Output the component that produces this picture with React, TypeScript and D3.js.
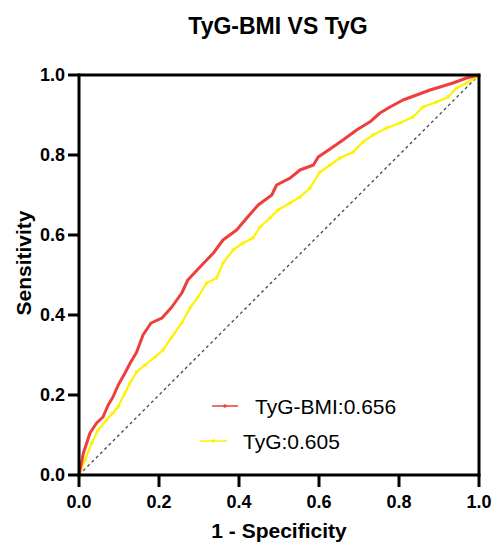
import React from 'react';
import * as d3 from 'd3';

// ROC points (1 - specificity, sensitivity)
const bmiFpr = [0, 0.011, 0.0275, 0.044, 0.06, 0.073, 0.085, 0.098, 0.115, 0.128, 0.144, 0.16, 0.18, 0.207, 0.232, 0.257, 0.272, 0.3025, 0.336, 0.36, 0.394, 0.419, 0.448, 0.482, 0.494, 0.5275, 0.5525, 0.586, 0.598, 0.6275, 0.66, 0.694, 0.7275, 0.7525, 0.7775, 0.81, 0.844, 0.8775, 0.9025, 0.935, 0.969, 1];
const bmiTpr = [0, 0.055, 0.105, 0.13, 0.145, 0.175, 0.195, 0.225, 0.255, 0.28, 0.307, 0.35, 0.38, 0.392, 0.42, 0.455, 0.4875, 0.52, 0.555, 0.5875, 0.6125, 0.642, 0.675, 0.7, 0.725, 0.742, 0.7625, 0.775, 0.795, 0.815, 0.8375, 0.8625, 0.883, 0.905, 0.92, 0.9375, 0.95, 0.9625, 0.97, 0.98, 0.9925, 1];

const tygFpr = [0, 0.015, 0.032, 0.0475, 0.069, 0.085, 0.0975, 0.115, 0.1275, 0.144, 0.165, 0.19, 0.21, 0.232, 0.257, 0.2775, 0.2975, 0.319, 0.344, 0.36, 0.385, 0.41, 0.435, 0.4525, 0.4775, 0.4975, 0.5275, 0.5525, 0.5775, 0.6025, 0.6275, 0.6525, 0.685, 0.71, 0.735, 0.769, 0.8025, 0.835, 0.86, 0.894, 0.9225, 0.944, 0.969, 0.994, 1];
const tygTpr = [0, 0.0375, 0.08, 0.1125, 0.1375, 0.155, 0.17, 0.205, 0.23, 0.2575, 0.275, 0.295, 0.3125, 0.345, 0.38, 0.4175, 0.445, 0.48, 0.4925, 0.53, 0.5625, 0.58, 0.5925, 0.62, 0.6425, 0.6625, 0.68, 0.695, 0.7175, 0.7575, 0.775, 0.7925, 0.8075, 0.8325, 0.85, 0.8675, 0.88, 0.895, 0.92, 0.9325, 0.945, 0.9675, 0.98, 0.995, 1];

const tickValues = [0, 0.2, 0.4, 0.6, 0.8, 1.0];
const legendLabels = ['TyG-BMI:0.656', 'TyG:0.605'];

const font = '"Liberation Sans", Arial, Helvetica, sans-serif';
const red = '#EE3E3E';
const yellow = '#FFF200';

export default function App() {
  const x = d3.scaleLinear().domain([0, 1]).range([79, 479]);
  const y = d3.scaleLinear().domain([0, 1]).range([475, 75]);

  const line = d3.line<[number, number]>()
    .x(d => x(d[0]))
    .y(d => y(d[1]));

  const bmiPts = bmiFpr.map((v, i) => [v, bmiTpr[i]] as [number, number]);
  const tygPts = tygFpr.map((v, i) => [v, tygTpr[i]] as [number, number]);

  return (
    <svg width={494} height={544} style={{ position: 'absolute', left: 0, top: 0 }} fontFamily={font}>
      <rect width={494} height={544} fill="#fff" />
      <text x={278} y={34} textAnchor="middle" fontSize={23} fontWeight="bold">TyG-BMI VS TyG</text>

      {/* reference diagonal */}
      <line x1={x(0)} y1={y(0)} x2={x(1)} y2={y(1)} stroke="#444" strokeWidth={1.3} strokeDasharray="3,3" />

      <path d={line(tygPts) || ''} fill="none" stroke={yellow} strokeWidth={2.2} />
      {tygPts.map((d, i) => (
        <rect key={i} x={x(d[0]) - 1.5} y={y(d[1]) - 1.5} width={3} height={3} fill={yellow} />
      ))}
      <path d={line(bmiPts) || ''} fill="none" stroke={red} strokeWidth={3} strokeLinejoin="round" />

      {/* frame */}
      <line x1={x(0)} y1={y(1)} x2={x(1) + 1.5} y2={y(1)} stroke="#000" strokeWidth={3} />
      <line x1={x(1)} y1={y(1)} x2={x(1)} y2={y(0)} stroke="#000" strokeWidth={3} />
      <line x1={x(0)} y1={y(1) - 1.5} x2={x(0)} y2={y(0) + 1.5} stroke="#000" strokeWidth={3} />
      <line x1={x(0) - 1.5} y1={y(0)} x2={x(1) + 1.5} y2={y(0)} stroke="#000" strokeWidth={3} />

      {tickValues.map(t => (
        <g key={'y' + t}>
          <line x1={x(0) - 11} x2={x(0)} y1={y(t)} y2={y(t)} stroke="#000" strokeWidth={3} />
          <text x={65} y={y(t)} dy="0.36em" textAnchor="end" fontSize={18} fontWeight="bold">{t.toFixed(1)}</text>
        </g>
      ))}
      {tickValues.map(t => (
        <g key={'x' + t}>
          <line x1={x(t)} x2={x(t)} y1={y(0)} y2={y(0) + 12} stroke="#000" strokeWidth={3} />
          <text x={x(t)} y={508} textAnchor="middle" fontSize={18} fontWeight="bold">{t.toFixed(1)}</text>
        </g>
      ))}

      <text x={279} y={538} textAnchor="middle" fontSize={21} fontWeight="bold">1 - Specificity</text>
      <text transform="translate(31,263) rotate(-90)" textAnchor="middle" fontSize={21} fontWeight="bold">Sensitivity</text>

      {/* legend */}
      <line x1={212} x2={238} y1={406} y2={406} stroke={red} strokeWidth={1.5} />
      <circle cx={225} cy={406} r={1.8} fill={red} />
      <text x={255} y={414} fontSize={21}>{legendLabels[0]}</text>
      <line x1={200} x2={227} y1={441} y2={441} stroke={yellow} strokeWidth={1.5} />
      <circle cx={213.5} cy={441} r={1.8} fill={yellow} />
      <text x={243} y={449} fontSize={21}>{legendLabels[1]}</text>
    </svg>
  );
}
